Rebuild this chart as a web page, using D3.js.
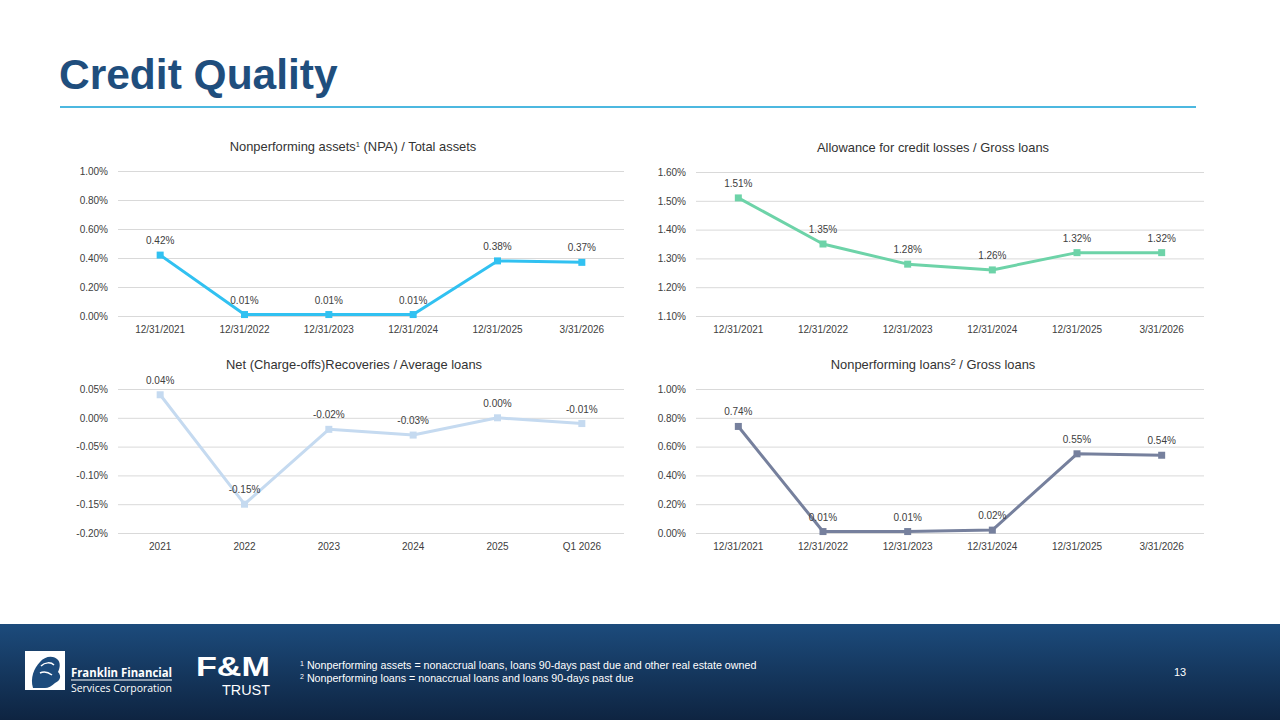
<!DOCTYPE html>
<html>
<head>
<meta charset="utf-8">
<script src="https://cdn.jsdelivr.net/npm/d3@7"></script>
<style>
  html, body { margin: 0; padding: 0; background: #fff; }
  svg { display: block; font-family: "Liberation Sans", Arial, sans-serif; }
</style>
</head>
<body>
<svg id="slide" width="1280" height="720"></svg>
<script>
// ---- data ----
const periodLabels   = ['12/31/2021', '12/31/2022', '12/31/2023', '12/31/2024', '12/31/2025', '3/31/2026'];
const yearLabels     = ['2021', '2022', '2023', '2024', '2025', 'Q1 2026'];

const npaValues      = [0.42, 0.01, 0.01, 0.01, 0.38, 0.37];
const allowValues    = [1.51, 1.35, 1.28, 1.26, 1.32, 1.32];
const chargeValues   = [0.04, -0.15, -0.02, -0.03, 0.00, -0.01];
const nplValues      = [0.74, 0.01, 0.01, 0.02, 0.55, 0.54];

const npaTicks       = [0, 0.2, 0.4, 0.6, 0.8, 1.0];
const allowTicks     = [1.1, 1.2, 1.3, 1.4, 1.5, 1.6];
const chargeTicks    = [-0.20, -0.15, -0.10, -0.05, 0.00, 0.05];
const nplTicks       = [0, 0.2, 0.4, 0.6, 0.8, 1.0];

const footnotes = [
    ['1', ' Nonperforming assets = nonaccrual loans, loans 90-days past due and other real estate owned'],
    ['2', ' Nonperforming loans = nonaccrual loans and loans 90-days past due']
];

const svg = d3.select('#slide');

// ---- header ----
svg.append('text')
    .attr('x', 59).attr('y', 89)
    .attr('font-size', 42.5).attr('font-weight', 'bold')
    .attr('fill', '#1f4e7d')
    .text('Credit Quality');

svg.append('line')
    .attr('x1', 60).attr('x2', 1196)
    .attr('y1', 107).attr('y2', 107)
    .attr('stroke', '#4cb8e0').attr('stroke-width', 2);

const fmt = d3.format('.2f');
const pct = v => fmt(v).replace('−', '-') + '%';

function drawChart(cfg) {
    const g = svg.append('g');

    const x = d3.scaleBand()
        .domain(cfg.labels)
        .range([cfg.left, cfg.right]);

    const y = d3.scaleLinear()
        .domain(cfg.domain)
        .range([cfg.bottom, cfg.top]);

    // title
    const t = g.append('text')
        .attr('x', cfg.titleX).attr('y', cfg.top - 20)
        .attr('text-anchor', 'middle')
        .attr('font-size', 12.9).attr('fill', '#333');
    cfg.title.forEach(part => {
        const s = t.append('tspan').text(part.text);
        if (part.sup) s.attr('font-size', part.supSize || 7.5).attr('baseline-shift', '4');
    });

    // gridlines + y labels
    const yAxis = d3.axisLeft(y)
        .tickValues(cfg.ticks)
        .tickSize(-(cfg.right - cfg.left))
        .tickPadding(10)
        .tickFormat(pct);

    g.append('g')
        .attr('transform', `translate(${cfg.left},0)`)
        .call(yAxis)
        .call(a => a.select('.domain').remove())
        .call(a => a.selectAll('line').attr('stroke', '#d9d9d9'))
        .call(a => a.selectAll('text')
            .attr('font-size', 10).attr('fill', '#404040')
            .attr('font-family', '"Liberation Sans", Arial, sans-serif'));

    // x labels
    const xAxis = d3.axisBottom(x).tickSize(0).tickPadding(10);
    g.append('g')
        .attr('transform', `translate(0,${cfg.bottom})`)
        .call(xAxis)
        .call(a => a.select('.domain').remove())
        .call(a => a.selectAll('text')
            .attr('font-size', 10).attr('fill', '#404040')
            .attr('font-family', '"Liberation Sans", Arial, sans-serif'));

    const pts = cfg.values.map((v, i) => ({ label: cfg.labels[i], value: v }));
    const cx = d => x(d.label) + x.bandwidth() / 2;

    g.append('path')
        .datum(pts)
        .attr('fill', 'none')
        .attr('stroke', cfg.color)
        .attr('stroke-width', 3)
        .attr('stroke-linejoin', 'round')
        .attr('d', d3.line().x(cx).y(d => y(d.value)));

    g.selectAll('.marker')
        .data(pts)
        .join('rect')
        .attr('class', 'marker')
        .attr('x', d => cx(d) - 3.5)
        .attr('y', d => y(d.value) - 3.5)
        .attr('width', 7).attr('height', 7)
        .attr('fill', cfg.color);

    g.selectAll('.dlabel')
        .data(pts)
        .join('text')
        .attr('class', 'dlabel')
        .attr('x', cx)
        .attr('y', d => y(d.value) - 11)
        .attr('text-anchor', 'middle')
        .attr('font-size', 10).attr('fill', '#404040')
        .text(d => pct(d.value));
}

drawChart({
    title: [{ text: 'Nonperforming assets' }, { text: '1', sup: true }, { text: ' (NPA) / Total assets' }],
    titleX: 353, labels: periodLabels, values: npaValues, ticks: npaTicks, domain: [0, 1.0],
    left: 118, right: 624, top: 171, bottom: 316, color: '#31c1f1'
});

drawChart({
    title: [{ text: 'Allowance for credit losses / Gross loans' }],
    titleX: 933, labels: periodLabels, values: allowValues, ticks: allowTicks, domain: [1.1, 1.6],
    left: 696, right: 1204, top: 172, bottom: 316, color: '#6dd3a8'
});

drawChart({
    title: [{ text: 'Net (Charge-offs)Recoveries / Average loans' }],
    titleX: 354, labels: yearLabels, values: chargeValues, ticks: chargeTicks, domain: [-0.20, 0.05],
    left: 118, right: 624, top: 389, bottom: 533, color: '#c5daf0'
});

drawChart({
    title: [{ text: 'Nonperforming loans' }, { text: '2', sup: true, supSize: 9.5 }, { text: ' / Gross loans' }],
    titleX: 933, labels: periodLabels, values: nplValues, ticks: nplTicks, domain: [0, 1.0],
    left: 696, right: 1204, top: 389, bottom: 533, color: '#76809d'
});

// ---- footer ----
const defs = svg.append('defs');
const grad = defs.append('linearGradient')
    .attr('id', 'footGrad').attr('x1', 0).attr('x2', 0).attr('y1', 0).attr('y2', 1);
grad.append('stop').attr('offset', '0%').attr('stop-color', '#1c4b7c');
grad.append('stop').attr('offset', '100%').attr('stop-color', '#0e2441');

svg.append('rect')
    .attr('x', 0).attr('y', 624).attr('width', 1280).attr('height', 96)
    .attr('fill', 'url(#footGrad)');

// Franklin Financial mark
const logo = svg.append('g');
logo.append('rect')
    .attr('x', 25).attr('y', 651).attr('width', 40).attr('height', 39)
    .attr('fill', '#fff');
logo.append('path')
    .attr('d', 'M33,688 C30,678 34,668 40,662 C44,657 52,655 57,659 C61,662 60,668 58,672 C62,676 60,681 55,683 C52,686 48,688 45,688 Z')
    .attr('fill', '#1c4b7c');
logo.append('path')
    .attr('d', 'M41,666 C45,662 51,662 54,665 M40,673 C44,671 48,672 52,675')
    .attr('fill', 'none').attr('stroke', '#fff').attr('stroke-width', 1.5);

logo.append('text')
    .attr('x', 71).attr('y', 677)
    .attr('font-family', '"Open Sans", "DejaVu Sans", sans-serif')
    .attr('font-size', 12.5).attr('font-weight', 'bold').attr('fill', '#fff')
    .attr('textLength', 101).attr('lengthAdjust', 'spacingAndGlyphs')
    .text('Franklin Financial');
logo.append('line')
    .attr('x1', 71).attr('x2', 172).attr('y1', 680).attr('y2', 680)
    .attr('stroke', '#fff').attr('stroke-width', 1);
logo.append('text')
    .attr('x', 71).attr('y', 692)
    .attr('font-family', '"Open Sans", "DejaVu Sans", sans-serif')
    .attr('font-size', 11.5).attr('fill', '#fff')
    .attr('textLength', 101).attr('lengthAdjust', 'spacingAndGlyphs')
    .text('Services Corporation');

// F&M Trust mark
const fm = svg.append('g');
fm.append('text')
    .attr('x', 196).attr('y', 676)
    .attr('font-size', 27).attr('font-weight', 'bold').attr('fill', '#fff')
    .attr('textLength', 74).attr('lengthAdjust', 'spacingAndGlyphs')
    .text('F&M');
fm.append('text')
    .attr('x', 222).attr('y', 695)
    .attr('font-size', 14).attr('fill', '#fff')
    .attr('textLength', 48).attr('lengthAdjust', 'spacingAndGlyphs')
    .text('TRUST');

// footnotes
footnotes.forEach((f, i) => {
    const t = svg.append('text')
        .attr('x', 300).attr('y', 669 + i * 13)
        .attr('font-size', 10.7).attr('fill', '#fff');
    t.append('tspan').attr('font-size', 7).attr('baseline-shift', '3').text(f[0]);
    t.append('tspan').text(f[1]);
});

svg.append('text')
    .attr('x', 1180).attr('y', 676)
    .attr('text-anchor', 'middle')
    .attr('font-size', 11).attr('fill', '#fff')
    .text('13');
</script>
</body>
</html>
